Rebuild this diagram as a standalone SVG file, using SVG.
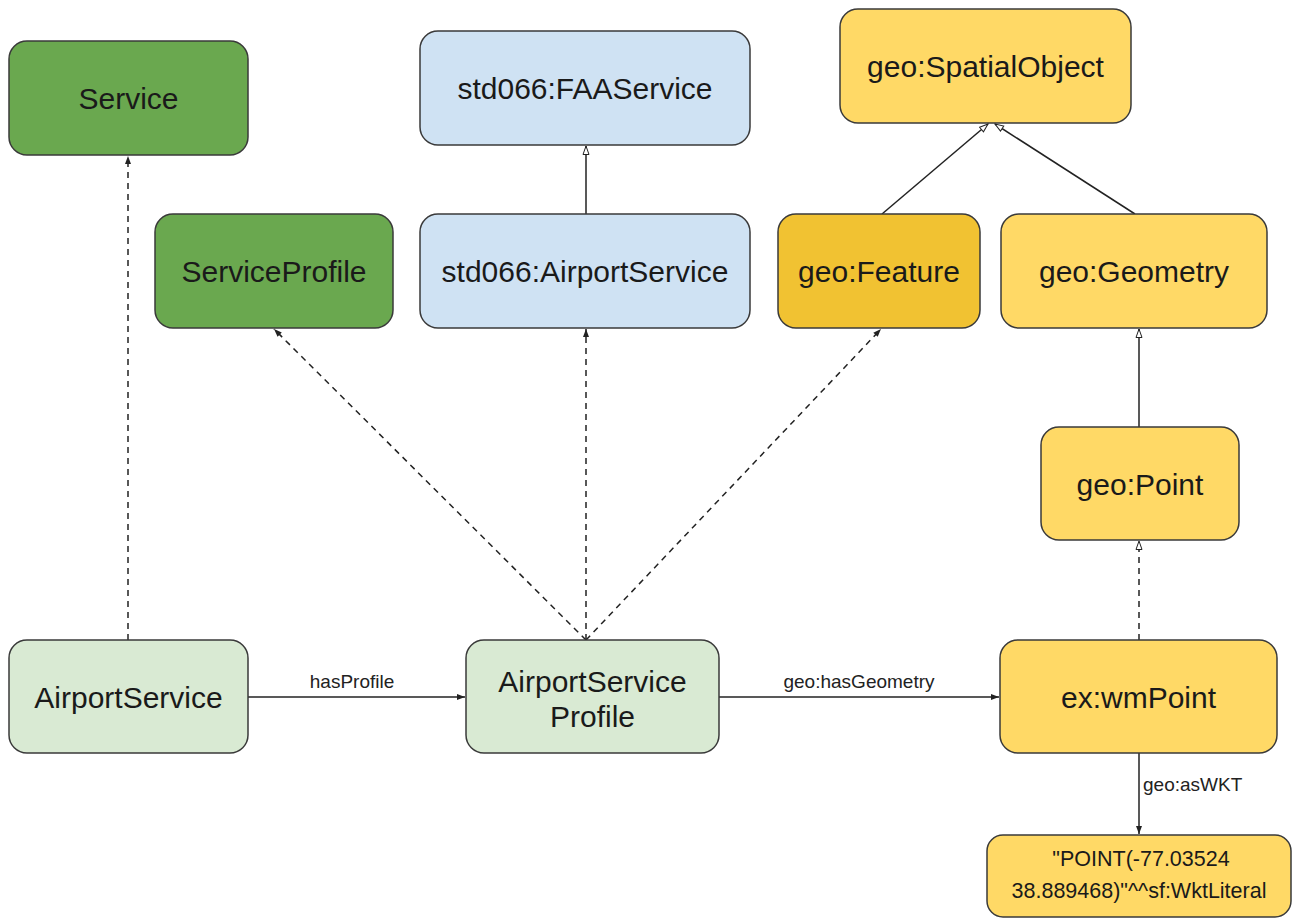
<svg xmlns="http://www.w3.org/2000/svg" width="1293" height="919" viewBox="0 0 1293 919">
<style>
.node{stroke:#3a3a3a;stroke-width:1.5}
.dg{fill:#6aa84f}
.lg{fill:#d9ead3}
.bl{fill:#cfe2f3}
.yl{fill:#ffd966}
.og{fill:#f1c232}
.lbl{font-family:"Liberation Sans",Arial,sans-serif;font-size:30px;fill:#1a1a1a;text-anchor:middle}
.elbl{font-family:"Liberation Sans",Arial,sans-serif;font-size:19px;fill:#222}
.lit{font-family:"Liberation Sans",Arial,sans-serif;font-size:21.5px;fill:#1a1a1a;text-anchor:middle}
.e{stroke:#222;stroke-width:1.5;fill:none}
.d{stroke-dasharray:6,5}
.f{marker-end:url(#af)}
.h{marker-end:url(#ah)}
</style>
<defs>
<marker id="af" markerUnits="userSpaceOnUse" markerWidth="10" markerHeight="8" refX="9" refY="4" orient="auto">
<path d="M1,1 L9,4 L1,7 z" fill="#222"/>
</marker>
<marker id="ah" markerUnits="userSpaceOnUse" markerWidth="11" markerHeight="9" refX="9.5" refY="4.5" orient="auto">
<path d="M1,1.5 L9.5,4.5 L1,7.5 z" fill="#fff" stroke="#222" stroke-width="1"/>
</marker>
</defs>
<rect width="1293" height="919" fill="#fff"/>
<g id="connectors">
<line class="e d f" x1="128" y1="640" x2="128" y2="156"/>
<line class="e d f" x1="586" y1="640" x2="274" y2="329"/>
<line class="e d f" x1="586" y1="640" x2="586" y2="329"/>
<line class="e d f" x1="586" y1="640" x2="881" y2="329"/>
<line class="e h" x1="586" y1="214" x2="586" y2="146"/>
<line class="e h" x1="882" y1="214" x2="988" y2="124"/>
<line class="e h" x1="1135" y1="214" x2="995" y2="124"/>
<line class="e h" x1="1139" y1="427" x2="1139" y2="329"/>
<line class="e d h" x1="1139" y1="640" x2="1139" y2="541"/>
<line class="e f" x1="248" y1="697" x2="465" y2="697"/>
<text class="elbl" x="352" y="688" text-anchor="middle">hasProfile</text>
<line class="e f" x1="719" y1="697" x2="999" y2="697"/>
<text class="elbl" x="859" y="688" text-anchor="middle">geo:hasGeometry</text>
<line class="e f" x1="1139" y1="753" x2="1139" y2="834"/>
<text class="elbl" x="1143" y="791">geo:asWKT</text>
</g>
<g id="service"><rect class="node dg" x="9" y="41" width="239" height="114" rx="18"/><text class="lbl" x="128.5" y="109">Service</text></g>
<g id="serviceprofile"><rect class="node dg" x="155" y="214" width="238" height="114" rx="18"/><text class="lbl" x="274" y="282">ServiceProfile</text></g>
<g id="faaservice"><rect class="node bl" x="420" y="31" width="330" height="114" rx="18"/><text class="lbl" x="585" y="99">std066:FAAService</text></g>
<g id="std066airportservice"><rect class="node bl" x="420" y="214" width="330" height="114" rx="18"/><text class="lbl" x="585" y="282">std066:AirportService</text></g>
<g id="spatialobject"><rect class="node yl" x="840" y="9" width="291" height="114" rx="18"/><text class="lbl" x="985.5" y="77">geo:SpatialObject</text></g>
<g id="feature"><rect class="node og" x="778" y="214" width="202" height="114" rx="18"/><text class="lbl" x="879" y="282">geo:Feature</text></g>
<g id="geometry"><rect class="node yl" x="1001" y="214" width="266" height="114" rx="18"/><text class="lbl" x="1134" y="282">geo:Geometry</text></g>
<g id="point"><rect class="node yl" x="1041" y="427" width="198" height="113" rx="18"/><text class="lbl" x="1140" y="495">geo:Point</text></g>
<g id="wmpoint"><rect class="node yl" x="1000" y="640" width="277" height="113" rx="18"/><text class="lbl" x="1138.5" y="708">ex:wmPoint</text></g>
<g id="literal"><rect class="node yl" x="987" y="835" width="304" height="82" rx="16"/><text class="lit" x="1141" y="866">"POINT(-77.03524</text><text class="lit" x="1139" y="898">38.889468)"^^sf:WktLiteral</text></g>
<g id="airportservice"><rect class="node lg" x="9" y="640" width="239" height="113" rx="18"/><text class="lbl" x="128.5" y="708">AirportService</text></g>
<g id="airportserviceprofile"><rect class="node lg" x="466" y="640" width="253" height="113" rx="18"/><text class="lbl" x="592.5" y="692">AirportService</text><text class="lbl" x="592.5" y="727">Profile</text></g>
</svg>
